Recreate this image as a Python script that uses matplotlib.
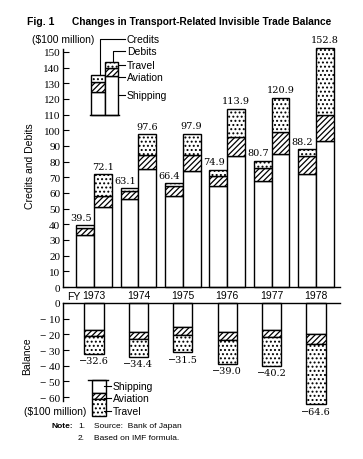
import numpy as np
import matplotlib
matplotlib.use("Agg")
import matplotlib.pyplot as plt

plt.rcParams['hatch.linewidth'] = 0.9

years = ['1973', '1974', '1975', '1976', '1977', '1978']

# credits (receipts), $100 million
cred_ship = [33, 56, 58, 64.5, 67.5, 72]
cred_avia = [4.5, 5, 6.5, 6.5, 8.5, 11.5]
cred_total = [39.5, 63.1, 66.4, 74.9, 80.7, 88.2]

# debits (payments)
deb_ship = [51, 75, 74, 83.5, 85, 93]
deb_avia = [7, 9.5, 10.5, 12.5, 14, 17]
deb_total = [72.1, 97.6, 97.9, 113.9, 120.9, 152.8]

# balance
bal_ship = [-17.5, -18.5, -15.5, -18.5, -17, -19.5]
bal_avia = [-3.5, -4.5, -5, -5, -5, -6.5]
bal_total = [-32.6, -34.4, -31.5, -39.0, -40.2, -64.6]

W, H = 363, 460
PPU = 1.567  # pixels per $100 million
fig = plt.figure(figsize=(W / 100, H / 100), dpi=100)

serif = 'Liberation Serif'
sans = 'Liberation Sans'
numf = 'DejaVu Serif'
DOTS = '....'
HATCH = '//////'

ax_l, ax_r = 63, 340
top_zero, bot_zero = 288, 304
up_max, low_min = 155, -66
ax1 = fig.add_axes([ax_l / W, (H - top_zero) / H, (ax_r - ax_l) / W, up_max * PPU / H])
ax2 = fig.add_axes([ax_l / W, (H - bot_zero + low_min * PPU) / H, (ax_r - ax_l) / W, -low_min * PPU / H])

x = np.arange(len(years))
xmin = -0.698
xmax = xmin + (ax_r - ax_l) / 44.4
bw = 0.4


def seg(ax, xpos, height, bottom, width, hatch=None):
    ax.bar(xpos, height, bottom=bottom, width=width, color='white', edgecolor='black',
           linewidth=1.0, hatch=hatch, clip_on=False)


def stack(ax, xpos, ship, avia, total, width):
    ship = np.asarray(ship, float)
    avia = np.asarray(avia, float)
    total = np.asarray(total, float)
    trav = total - ship - avia
    seg(ax, xpos, ship, 0, width)
    seg(ax, xpos, avia, ship, width, HATCH)
    seg(ax, xpos, trav, ship + avia, width, DOTS)


# ---- upper chart: credits and debits
stack(ax1, x - bw / 2, cred_ship, cred_avia, cred_total, bw)
stack(ax1, x + bw / 2, deb_ship, deb_avia, deb_total, bw)
for i in range(len(years)):
    ax1.text(x[i] - bw / 2 - 0.1, cred_total[i] + 2, f'{cred_total[i]:.1f}', ha='center', va='bottom',
             family=numf, fontsize=7)
    ax1.text(x[i] + bw / 2, deb_total[i] + 2, f'{deb_total[i]:.1f}', ha='center', va='bottom',
             family=numf, fontsize=7)

ax1.set_xlim(xmin, xmax)
ax1.set_ylim(0, up_max)
ax1.set_yticks(np.arange(0, 151, 10))
ax1.set_yticklabels([str(v) for v in range(0, 151, 10)], family=serif, fontsize=8)
ax1.tick_params(axis='y', direction='in', length=4, width=0.8, pad=2)
ax1.set_xticks(x)
ax1.set_xticklabels(years, family=sans, fontsize=7.5)
ax1.tick_params(axis='x', length=0, pad=2)
for s in ['top', 'right']:
    ax1.spines[s].set_visible(False)
ax1.spines['left'].set_bounds(0, 152)
ax1.spines['left'].set_linewidth(1.0)
ax1.spines['bottom'].set_linewidth(1.0)
ax1.text(x[0] - 0.31, -2.3, 'FY', ha='right', va='top', family=sans, fontsize=7.5)
ax1.set_ylabel('Credits and Debits', family=sans, fontsize=7.5, labelpad=6)

# legend drawing (upper)
lc, ld, lw_ = 0.09, 0.39, 0.3
ax1.plot([lc - lw_ / 2 - 0.03, ld + lw_ / 2 + 0.03], [110, 110], color='black', lw=1.0, clip_on=False)
seg(ax1, [lc], [14.5], 110, lw_)
seg(ax1, [lc], [6.5], 124.5, lw_, HATCH)
seg(ax1, [lc], [4], 131, lw_, DOTS)
seg(ax1, [ld], [24.5], 110, lw_)
seg(ax1, [ld], [5], 134.5, lw_, HATCH)
seg(ax1, [ld], [4.3], 139.5, lw_, DOTS)
tx = 0.743
ax1.plot([0.135, 0.135, 0.69], [135, 158.3, 158.3], color='black', lw=0.8, clip_on=False)
ax1.plot([0.428, 0.428, 0.69], [143.8, 150.6, 150.6], color='black', lw=0.8, clip_on=False)
for yy, lab in [(158.3, 'Credits'), (150.6, 'Debits'), (141.5, 'Travel'), (134.2, 'Aviation'), (122.5, 'Shipping')]:
    if lab in ('Travel', 'Aviation', 'Shipping'):
        ax1.plot([ld + lw_ / 2, 0.70], [yy, yy], color='black', lw=0.8, clip_on=False)
    ax1.text(tx, yy, lab, ha='left', va='center', family=sans, fontsize=7.5, clip_on=False)
ax1.text(-0.69, 158.3, '($100 million)', ha='center', va='center', family=sans, fontsize=7.5)

# ---- lower chart: balance
bal_w = 0.43
stack(ax2, x, bal_ship, bal_avia, bal_total, bal_w)
for i in range(len(years)):
    ax2.text(x[i], bal_total[i] - 1.5, f'\u2212{abs(bal_total[i]):.1f}', ha='center', va='top',
             family=numf, fontsize=7)

ax2.set_xlim(xmin, xmax)
ax2.set_ylim(low_min, 0)
ax2.set_yticks(np.arange(-60, 1, 10))
ax2.set_yticklabels([f'\u2212 {abs(v)}' if v else '0' for v in range(-60, 1, 10)], family=serif, fontsize=8)
ax2.tick_params(axis='y', direction='in', length=4, width=0.8, pad=2)
ax2.set_xticks([])
for s in ['bottom', 'right']:
    ax2.spines[s].set_visible(False)
ax2.spines['left'].set_bounds(-62.5, 0)
ax2.spines['left'].set_linewidth(1.0)
ax2.spines['top'].set_linewidth(1.0)
ax2.set_ylabel('Balance', family=sans, fontsize=7.5, labelpad=6)

# legend drawing (lower)
gc, gw = 0.108, 0.32
ax2.plot([gc - 0.24, gc + 0.2], [-48.9, -48.9], color='black', lw=1.0, clip_on=False)
seg(ax2, [gc], [-8.5], -48.9, gw)
seg(ax2, [gc], [-3.6], -57.4, gw, HATCH)
seg(ax2, [gc], [-11], -61, gw, DOTS)
for yy, lab in [(-53, 'Shipping'), (-60.6, 'Aviation'), (-68.9, 'Travel')]:
    ax2.plot([gc + gw / 2 - 0.04, 0.39], [yy, yy], color='black', lw=0.8, clip_on=False)
    ax2.text(0.42, yy, lab, ha='left', va='center', family=sans, fontsize=7.5, clip_on=False)
ax2.text(-0.17, -68.9, '($100 million)', ha='right', va='center', family=sans, fontsize=7.5, clip_on=False)

# title and notes
fig.text(27 / W, 1 - 22 / H, 'Fig. 1', ha='left', va='center', family=sans, fontsize=7.5, weight='bold')
fig.text(72 / W, 1 - 22 / H, 'Changes in Transport-Related Invisible Trade Balance', ha='left', va='center',
         family=sans, fontsize=7.3, weight='bold')
fig.text(52 / W, 1 - 427 / H, 'Note:', ha='left', va='center', family=sans, fontsize=6, weight='bold')
fig.text(78 / W, 1 - 427 / H, '1.', ha='left', va='center', family=sans, fontsize=6)
fig.text(94 / W, 1 - 427 / H, 'Source:  Bank of Japan', ha='left', va='center', family=sans, fontsize=6)
fig.text(78 / W, 1 - 439 / H, '2.', ha='left', va='center', family=sans, fontsize=6)
fig.text(94 / W, 1 - 439 / H, 'Based on IMF formula.', ha='left', va='center', family=sans, fontsize=6)

fig.savefig('out.png', dpi=100)
